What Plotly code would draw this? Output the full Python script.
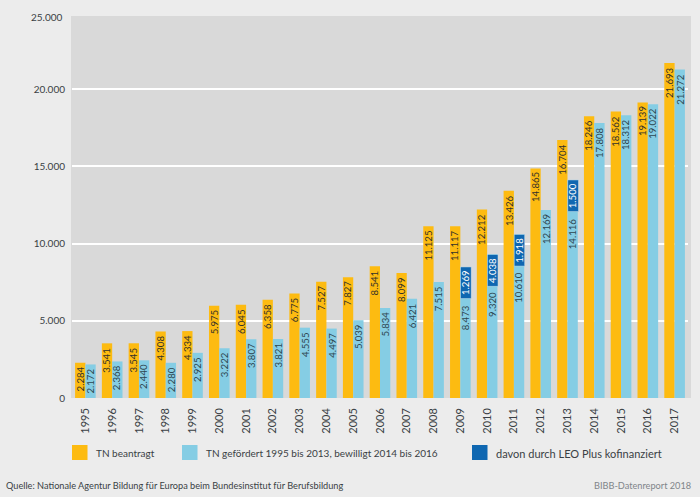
import plotly.graph_objects as go

years = list(range(1995, 2018))
beantragt = [2284, 3541, 3545, 4308, 4334, 5975, 6045, 6358, 6775, 7527, 7827, 8541,
             8099, 11125, 11117, 12212, 13426, 14865, 16704, 18246, 18562, 19139, 21693]
gefoerdert = [2172, 2368, 2440, 2280, 2925, 3222, 3807, 3821, 4555, 4497, 5039, 5834,
              6421, 7515, 8473, 9320, 10610, 12169, 14116, 17808, 18312, 19022, 21272]
leo_years = [2009, 2010, 2011, 2013]
leo_values = [1269, 4038, 1918, 1500]
y_ticks = [0, 5000, 10000, 15000, 20000]
y_top_tick = 25000

FONT = "Lato, Roboto, sans-serif"
ORANGE, LIGHT, DARK = "#fdbb11", "#85cde4", "#0f67b1"
TXT = "#3a3f44"
BG = "#ececec"
PLOT = "#d9d9d9"
VAL = 9.6
TICK = 10


def de(v):
    return f"{v:,}".replace(",", ".")


fig = go.Figure()
fig.add_bar(x=years, y=beantragt, name="TN beantragt", marker_color=ORANGE, marker_line_width=0)
fig.add_bar(x=years, y=gefoerdert, name="TN gefördert 1995 bis 2013, bewilligt 2014 bis 2016",
            marker_color=LIGHT, marker_line_width=0)

annotations = []
BOX_PX = 33
for i, yr in enumerate(years):
    annotations.append(dict(x=yr, y=beantragt[i], text=de(beantragt[i]), xshift=-5.2, yshift=-2,
                            showarrow=False, textangle=-90, yanchor="top", xanchor="center",
                            font=dict(family=FONT, size=VAL, color="#33312a")))
    shift = -2
    if yr in leo_years:
        shift = -BOX_PX - 3
    annotations.append(dict(x=yr, y=gefoerdert[i], text=de(gefoerdert[i]), xshift=5.2, yshift=shift,
                            showarrow=False, textangle=-90, yanchor="top", xanchor="center",
                            font=dict(family=FONT, size=VAL, color="#2f4650")))
for yr, v in zip(leo_years, leo_values):
    annotations.append(dict(x=yr, y=gefoerdert[years.index(yr)], text=de(v), xshift=5.2, yshift=0,
                            showarrow=False, textangle=-90, yanchor="top", xanchor="center",
                            width=BOX_PX - 2, height=9.5, bgcolor=DARK, bordercolor="#bcd9ea", borderwidth=0.5,
                            borderpad=0, align="center",
                            font=dict(family=FONT, size=VAL, color="white")))

W, H = 700, 497
PL, PR, PT, PB = 72, 688, 12, 398


def px(x):
    return (x - PL) / (PR - PL)


def py(y):
    return (PB - y) / (PB - PT)


shapes = [dict(type="rect", xref="paper", yref="paper", layer="below", x0=px(71), x1=px(691), y0=py(398), y1=py(16),
               fillcolor=PLOT, line_width=0)]
for x0, col, label, size in [(72, ORANGE, "TN beantragt", 10),
                             (182, LIGHT, "TN gefördert 1995 bis 2013, bewilligt 2014 bis 2016", 10),
                             (472, DARK, "davon durch LEO Plus kofinanziert", 11)]:
    shapes.append(dict(type="rect", xref="paper", yref="paper", x0=px(x0), x1=px(x0 + 15.5), y0=py(460), y1=py(445),
                       fillcolor=col, line_width=0))
    annotations.append(dict(xref="paper", yref="paper", x=px(x0 + 22), y=py(453), text=label, showarrow=False,
                            xanchor="left", yanchor="middle", font=dict(family=FONT, size=size, color=TXT)))
annotations.append(dict(xref="paper", yref="paper", x=px(4), y=py(486), showarrow=False, xanchor="left", yanchor="middle",
                        text="Quelle: Nationale Agentur Bildung für Europa beim Bundesinstitut für Berufsbildung",
                        font=dict(family=FONT, size=9.2, color=TXT)))
annotations.append(dict(xref="paper", yref="paper", x=px(693), y=py(486), showarrow=False, xanchor="right", yanchor="middle",
                        text="BIBB-Datenreport 2018", font=dict(family=FONT, size=9.2, color="#80858a")))
annotations.append(dict(xref="paper", yref="paper", x=px(65), y=py(16.5), showarrow=False, xanchor="right", yanchor="middle",
                        text=de(y_top_tick), font=dict(family=FONT, size=TICK, color=TXT)))

fig.update_layout(
    width=W, height=H, barmode="group", bargap=0.23, bargroupgap=0, showlegend=False,
    margin=dict(l=PL, r=W - PR, t=PT, b=H - PB, pad=0),
    paper_bgcolor=BG, plot_bgcolor="rgba(0,0,0,0)",
    font=dict(family=FONT, size=TICK, color=TXT),
    shapes=shapes, annotations=annotations,
    xaxis=dict(tickmode="array", tickvals=years, ticktext=[str(y) for y in years], tickangle=-90, ticks="",
               showgrid=False, zeroline=False, showline=False, range=[1994.5, 2017.5],
               tickfont=dict(family=FONT, size=11, color=TXT), ticklabelstandoff=7),
    yaxis=dict(tickmode="array", tickvals=y_ticks, ticktext=[de(v) for v in y_ticks], range=[0, y_top_tick],
               showgrid=True, gridcolor="white", gridwidth=2.2, zeroline=False, showline=False, ticks="",
               tickfont=dict(family=FONT, size=TICK, color=TXT), ticklabelstandoff=6),
)
fig.write_html("out.html", config={"displayModeBar": False},
               post_script="document.body.style.margin='0';document.body.style.overflow='hidden';document.body.style.background='#ececec';")
